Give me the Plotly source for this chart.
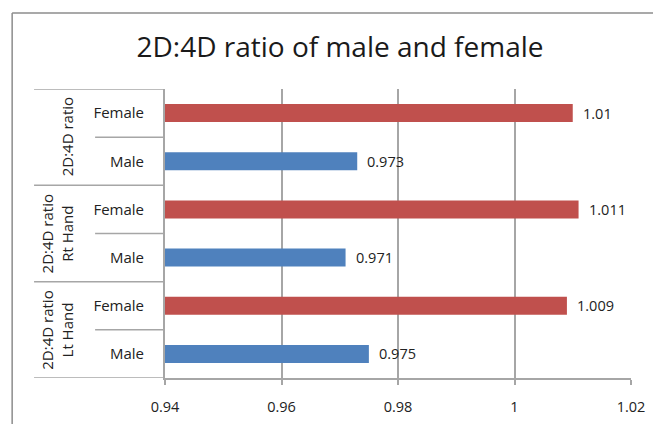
import plotly.graph_objects as go

# Group (outer) labels, from bottom to top of the axis
groups = ["2D:4D ratio<br>Lt Hand", "2D:4D ratio<br>Rt Hand", "2D:4D ratio"]
sexes = ["Male", "Female"]

# Mean 2D:4D ratios per group
male_values = [0.975, 0.971, 0.973]
female_values = [1.009, 1.011, 1.01]

x_ticks = [0.94, 0.96, 0.98, 1.0, 1.02]
x_tick_labels = ["0.94", "0.96", "0.98", "1", "1.02"]

red = "#C0504D"
blue = "#4F81BD"
grid = "#A6A6A6"
text_col = "#222222"
font_family = "Open Sans, Noto Sans, sans-serif"

# Unique category keys in axis order (bottom -> top), Male then Female per group
cat_keys = []
cat_text = []
for g in range(len(groups)):
    for s in sexes:
        cat_keys.append(f"g{g}-{s}")
        cat_text.append(s)

male_keys = [f"g{g}-Male" for g in range(len(groups))]
female_keys = [f"g{g}-Female" for g in range(len(groups))]

fig = go.Figure()
fig.add_trace(go.Bar(y=male_keys, x=male_values, orientation="h",
                     marker=dict(color=blue, line=dict(width=0)), name="Male"))
fig.add_trace(go.Bar(y=female_keys, x=female_values, orientation="h",
                     marker=dict(color=red, line=dict(width=0)), name="Female"))

# Value labels at the end of each bar
annotations = []
for keys, vals in ((male_keys, male_values), (female_keys, female_values)):
    for k, v in zip(keys, vals):
        annotations.append(dict(x=v, y=k, xref="x", yref="y", text=f"{v:g}",
                                showarrow=False, xanchor="left", xshift=8,
                                font=dict(size=14.5, color=text_col, family=font_family)))

# Rotated group labels in the outer category column
n_per_group = len(sexes)
for g, label in enumerate(groups):
    two_line = "<br>" in label
    annotations.append(dict(x=-0.232 if two_line else -0.21,
                            y=g * n_per_group + (n_per_group - 1) / 2,
                            xref="paper", yref="y", text=label, showarrow=False,
                            textangle=-90, xanchor="center", yanchor="middle",
                            font=dict(size=15, color=text_col, family=font_family)))

shapes = []
line_style = dict(color=grid, width=1.5)
# Group separators spanning both label columns
for g in range(len(groups) + 1):
    shapes.append(dict(type="line", xref="paper", yref="y",
                       x0=-0.281, x1=0, y0=g * n_per_group - 0.5, y1=g * n_per_group - 0.5,
                       line=line_style))
# Separators between Male and Female within each group
for g in range(len(groups)):
    yb = g * n_per_group + 0.5
    shapes.append(dict(type="line", xref="paper", yref="y",
                       x0=-0.150, x1=0, y0=yb, y1=yb, line=line_style))
# Chart-area frame
frame = dict(color="#8C8C8C", width=1.5)
shapes.append(dict(type="line", xref="paper", yref="paper",
                   x0=-0.328, x1=1.2, y0=1.263, y1=1.263, line=frame))
shapes.append(dict(type="line", xref="paper", yref="paper",
                   x0=-0.328, x1=-0.328, y0=1.263, y1=-0.3, line=frame))

fig.update_layout(
    width=653, height=424,
    margin=dict(l=165, r=22, t=89, b=46, autoexpand=False),
    paper_bgcolor="white", plot_bgcolor="white",
    barmode="overlay", bargap=0.625,
    showlegend=False,
    title=dict(text="2D:4D ratio of male and female", x=340 / 653, xanchor="center",
               xref="container", y=1 - 47 / 424, yanchor="middle",
               font=dict(size=28, color="#1a1a1a", family=font_family)),
    font=dict(family=font_family, size=14.5, color=text_col),
    annotations=annotations,
    shapes=shapes,
)
fig.update_xaxes(range=[0.94, 1.02], tickvals=x_ticks, ticktext=x_tick_labels,
                 showgrid=True, gridcolor=grid, gridwidth=1.5,
                 showline=True, linecolor=grid, linewidth=2,
                 ticks="outside", ticklen=5, tickcolor=grid, tickwidth=1.5,
                 ticklabelstandoff=10, zeroline=False, automargin=False,
                 tickfont=dict(size=14.5, color=text_col))
fig.update_yaxes(type="category", categoryorder="array", categoryarray=cat_keys,
                 tickvals=cat_keys, ticktext=cat_text, range=[-0.5, len(cat_keys) - 0.5],
                 showline=True, linecolor=grid, linewidth=2, showgrid=False,
                 ticks="", ticklabelstandoff=16, zeroline=False, automargin=False,
                 tickfont=dict(size=15, color=text_col))

fig.write_html("out.html")
